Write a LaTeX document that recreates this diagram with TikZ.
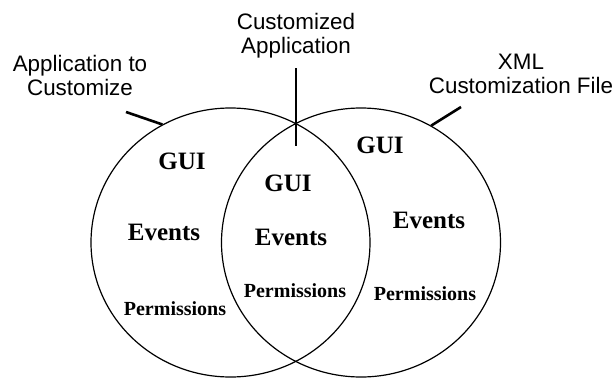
\documentclass[tikz,border=0pt]{standalone}
\usepackage{fontspec}
\setmainfont{Liberation Serif}
\newfontfamily\labelfont{Liberation Sans}
\usetikzlibrary{shapes.geometric}
\tikzset{
  setcircle/.style={draw, ellipse, line width=1.2pt, inner sep=0pt, minimum width=279pt, minimum height=269pt},
  big/.style={font=\fontsize{25}{28}\selectfont\bfseries, inner sep=0pt},
  small/.style={font=\fontsize{20}{23}\selectfont\bfseries, inner sep=0pt},
  caption/.style={font=\labelfont\fontsize{22.4}{24}\selectfont, align=center, inner sep=0pt},
  tag/.style={line width=2.6pt}
}
\begin{document}
\begin{tikzpicture}[x=1pt,y=-1pt]
\useasboundingbox (0,0) rectangle (616,380);
% the two sets
\node[setcircle] (app) at (230.5,242.5){};
\node[setcircle] (xml) at (361,242.5){};
% what is in them
\node[big] (guiL) at (182,161){GUI};
\node[big] (evL) at (164,232){Events};
\node[small] (permL) at (175,309){Permissions};
\node[big] (guiM) at (288,183){GUI};
\node[big] (evM) at (291,237){Events};
\node[small] (permM) at (295,291){Permissions};
\node[big] (guiR) at (380,145){GUI};
\node[big] (evR) at (429,220){Events};
\node[small] (permR) at (425,294){Permissions};
% captions
\node[caption] (appTxt) at (80,75.9){Application to\\Customize};
\node[caption] (cusTxt) at (296,36.2){Customized\\Application};
\node[caption] (xmlTxt) at (521,73.5){XML\\Customization File};
\coordinate (appEnd) at (126,112);
\coordinate (xmlEnd) at (461,107);
\coordinate (cusTop) at (296,68);
\coordinate (cusBot) at (296,146);
\draw[tag](appEnd) -- (app.120.7);
\draw[tag](xmlEnd) -- (xml.59.4);
\draw[tag](cusTop) -- (cusBot);
\end{tikzpicture}
\end{document}
